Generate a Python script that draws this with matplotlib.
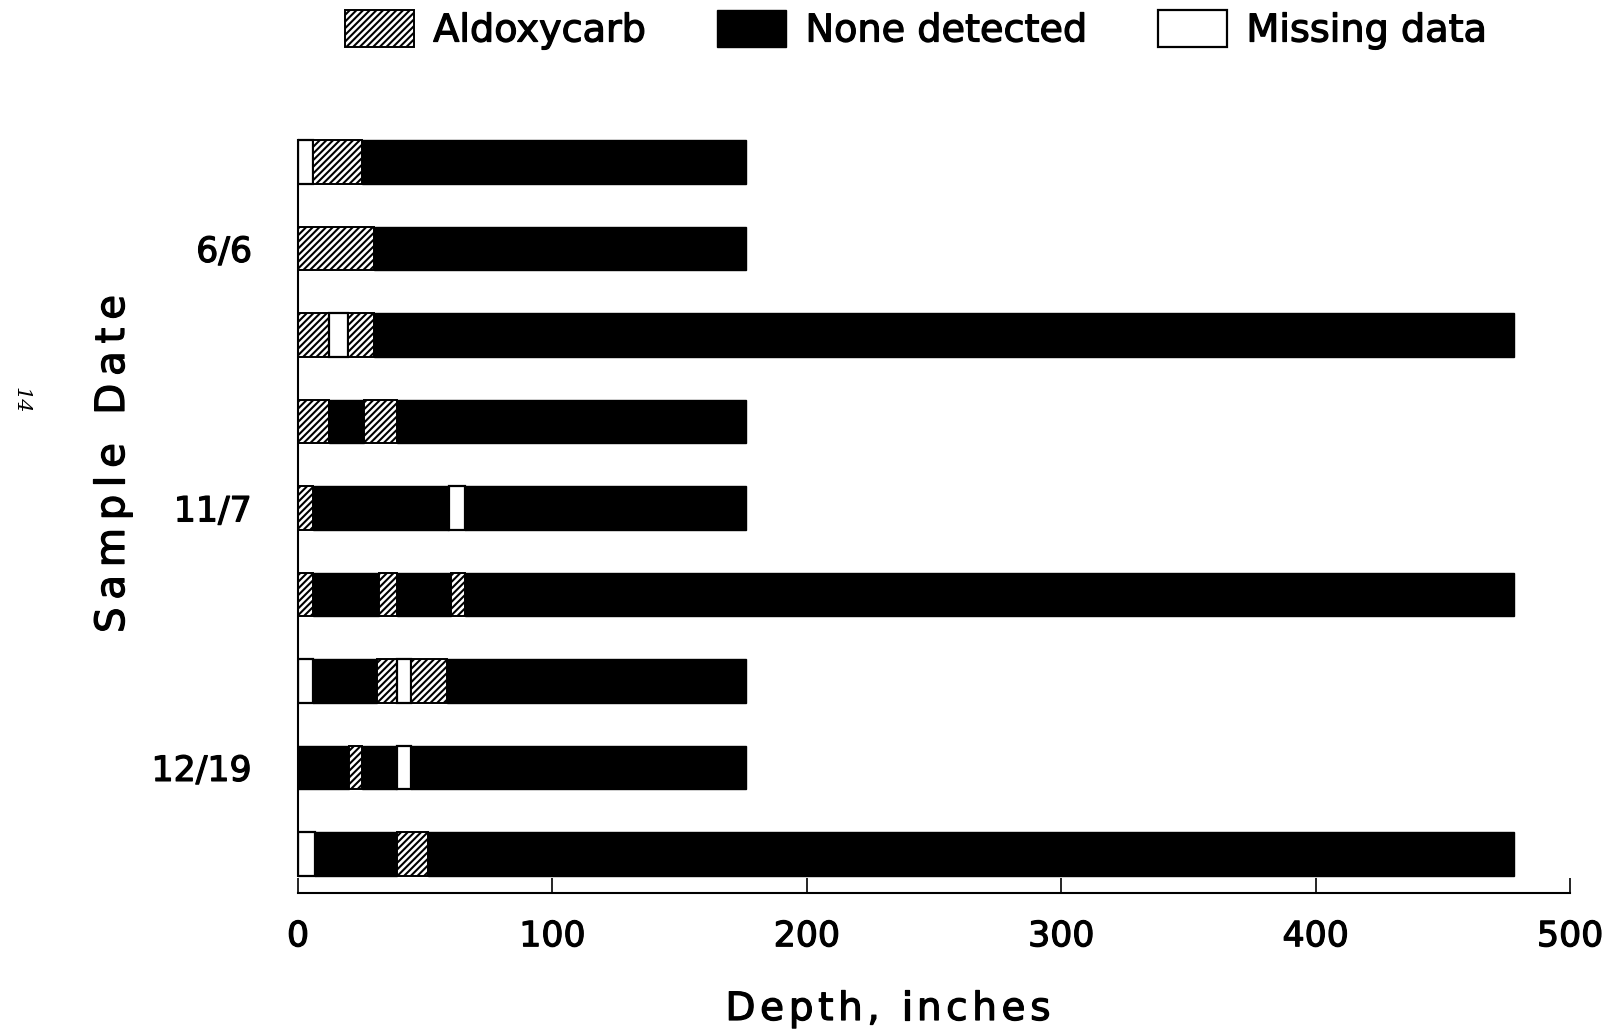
"""Aldoxycarb detections by depth for each sampling date."""
import matplotlib
matplotlib.use("Agg")
import matplotlib.pyplot as plt
import matplotlib.patheffects as pe
from matplotlib.patches import Patch
from matplotlib.transforms import IdentityTransform

plt.rcParams["font.family"] = ["DejaVu Sans"]
plt.rcParams["hatch.linewidth"] = 1.5

# segment kinds: A = aldoxycarb, N = none detected, M = missing data
# each bar is a list of (kind, top depth, bottom depth) in inches
bars_6_6 = [
    [("M", 0, 6), ("A", 6, 25), ("N", 25, 176)],
    [("A", 0, 30), ("N", 30, 176)],
    [("A", 0, 12), ("M", 12, 19.5), ("A", 19.5, 30), ("N", 30, 478)],
]
bars_11_7 = [
    [("A", 0, 12), ("N", 12, 26), ("A", 26, 39), ("N", 39, 176)],
    [("A", 0, 6), ("N", 6, 59.5), ("M", 59.5, 65.5), ("N", 65.5, 176)],
    [("A", 0, 6), ("N", 6, 32), ("A", 32, 39), ("N", 39, 60),
     ("A", 60, 65.5), ("N", 65.5, 478)],
]
bars_12_19 = [
    [("M", 0, 6), ("N", 6, 31), ("A", 31, 39), ("M", 39, 44.5),
     ("A", 44.5, 58.5), ("N", 58.5, 176)],
    [("N", 0, 20), ("A", 20, 25), ("N", 25, 39), ("M", 39, 44.5),
     ("N", 44.5, 176)],
    [("M", 0, 6.5), ("N", 6.5, 39), ("A", 39, 51), ("N", 51, 478)],
]
dates = ["6/6", "11/7", "12/19"]
kind_labels = {"A": "Aldoxycarb", "N": "None detected", "M": "Missing data"}

styles = {
    "A": dict(facecolor="white", edgecolor="black", hatch="/////", linewidth=1.4),
    "N": dict(facecolor="black", edgecolor="black", linewidth=1.0),
    "M": dict(facecolor="white", edgecolor="black", linewidth=1.6),
}

# slightly heavier strokes for all lettering
heavy = [pe.withStroke(linewidth=0.9, foreground="black")]


def spaced_text(fig, x, y, s, size, span, rotation=0, **kw):
    """Draw s letter by letter, evenly spread over span pixels around (x, y)."""
    renderer = fig.canvas.get_renderer()

    def width(txt):
        t = fig.text(0, 0, txt, fontsize=size, **kw)
        w = t.get_window_extent(renderer).width
        t.remove()
        return w

    widths = [width("n n") - width("nn") if ch == " " else width(ch) for ch in s]
    gap = (span - sum(widths)) / (len(s) - 1)
    pos = -span / 2
    for ch, w in zip(s, widths):
        if ch != " ":
            px, py = (x + pos, y) if rotation == 0 else (x, y + pos)
            fig.text(px, py, ch, fontsize=size, rotation=rotation,
                     rotation_mode="anchor", ha="left", va="baseline",
                     transform=IdentityTransform(), path_effects=heavy, **kw)
        pos += w + gap


fig = plt.figure(figsize=(16.17, 10.33), dpi=100)
ax = fig.add_axes([298 / 1617, 0.1357, (1570 - 298) / 1617, 0.8684 - 0.1357])

all_bars = bars_6_6 + bars_11_7 + bars_12_19
for row, segments in enumerate(all_bars):
    for kind, start, end in segments:
        ax.barh(row, end - start, left=start, height=0.5, **styles[kind])

# the depth scale starts at each bar's top edge
ax.plot([0, 0], [-0.25, len(all_bars) - 0.75], color="black", lw=1.5,
        clip_on=False)

ax.set_xlim(0, 500)
ax.set_ylim(len(all_bars) - 0.55, -0.3)
ax.set_xticks(range(0, 501, 100))
ax.set_yticks([1, 4, 7])
ax.set_yticklabels(dates)
ax.tick_params(axis="x", direction="in", length=11, width=1.2, pad=19,
               labelsize=25)
ax.tick_params(axis="y", length=0, pad=33, labelsize=25)
for lab in ax.get_xticklabels() + ax.get_yticklabels():
    lab.set_path_effects(heavy)
for side in ("top", "right", "left"):
    ax.spines[side].set_visible(False)
ax.spines["bottom"].set_linewidth(1.5)

handles = [Patch(**styles[k]) for k in ("A", "N", "M")]
leg = fig.legend(handles, [kind_labels[k] for k in ("A", "N", "M")],
                 loc="center left", bbox_to_anchor=(345 / 1617, 0.971), ncol=3,
                 frameon=False, fontsize=27.5, handlelength=1.81,
                 handleheight=1.08, handletextpad=0.5, columnspacing=1.85,
                 borderpad=0, borderaxespad=0)
for t in leg.get_texts():
    t.set_path_effects(heavy)

spaced_text(fig, 888, 13, "Depth, inches", 28, 325)
spaced_text(fig, 124, 569, "Sample Date", 29, 338, rotation=90)

fig.text(21 / 1617, 1 - 400 / 1033, "14", fontsize=15, rotation=-90,
         family="DejaVu Serif", style="italic", ha="center", va="center")

fig.savefig("out.png", dpi=100)
